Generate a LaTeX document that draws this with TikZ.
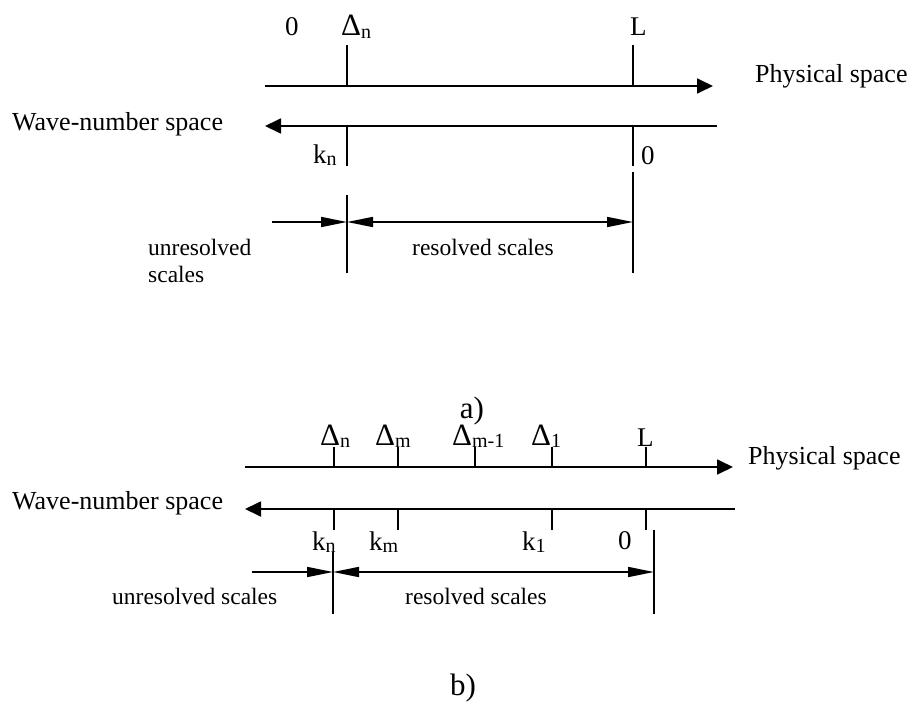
\documentclass[tikz,border=0pt]{standalone}
\usepackage{fontspec}
\setmainfont{Liberation Serif}
\usetikzlibrary{arrows.meta, positioning, calc}
\newcommand{\lowsub}[1]{\raisebox{-2.5pt}{\fontsize{20}{20}\selectfont #1}}
\newcommand{\bigdelta}{{\fontsize{31}{31}\selectfont Δ}}
\tikzset{
  ss@axis/.style={line width=1.8pt, -{Triangle[length=16pt,width=15pt]}},
  ss@tick/.style={line width=1.8pt},
  ss@bar/.style={line width=1.4pt},
  ss@dim/.style={line width=1.6pt, -{Triangle[length=26pt,width=10pt]}},
  ss@dimboth/.style={line width=1.6pt,
    {Triangle[length=26pt,width=10pt]}-{Triangle[length=26pt,width=10pt]}},
  ss@lbl/.style={font=\fontsize{27}{29}\selectfont, inner sep=0pt, anchor=base west},
  ss@space/.style={font=\fontsize{26}{28}\selectfont, inner sep=0pt, anchor=base west},
  ss@scale/.style={font=\fontsize{23.5}{27}\selectfont, inner sep=0pt, anchor=base west,
    align=left},
  ss@cap/.style={font=\fontsize{31}{33}\selectfont, inner sep=0pt, anchor=base},
}
\begin{document}
\begin{tikzpicture}[x=1pt, y=-1pt]
  \useasboundingbox (0,0) rectangle (912,701);

  % ---- a) one cut-off ----
  \coordinate (pa-w) at (265,86);
  \coordinate (pa-e) at (713,86);
  \coordinate (wa-e) at (717,126);
  \coordinate (wa-w) at (265,126);
  \draw[ss@axis] (pa-w) -- (pa-e);
  \draw[ss@axis] (wa-e) -- (wa-w);

  \draw[ss@tick] (347,45) -- (347,86);
  \draw[ss@tick] (633,45) -- (633,86);
  \draw[ss@tick] (347,126) -- (347,166);
  \draw[ss@tick] (633,126) -- (633,166);

  \node[ss@lbl] (za-top) at (285,36) {0};
  \node[ss@lbl] (dna)    at (341,36) {\bigdelta\lowsub{n}};
  \node[ss@lbl] (la)     at (630,36) {L};
  \node[ss@space] (phys-a) at (755,82) {Physical space};
  \node[ss@space] (wave-a) at (12,130) {Wave-number space};
  \node[ss@lbl] (kna)    at (313,163) {k\lowsub{n}};
  \node[ss@lbl] (za-bot) at (641,164) {0};

  \coordinate (ka-top) at (347,195);
  \coordinate (ka-bot) at (347,273);
  \coordinate (ra-top) at (633,172);
  \coordinate (ra-bot) at (633,273);
  \draw[ss@bar] (ka-top) -- (ka-bot);
  \draw[ss@bar] (ra-top) -- (ra-bot);

  \coordinate (ua-tail) at (272,222);
  \coordinate (ka-mid)  at (347,222);
  \coordinate (ra-mid)  at (633,222);
  \draw[ss@dim] (ua-tail) -- (ka-mid);
  \draw[ss@dimboth] (ka-mid) -- (ra-mid);

  \node[ss@scale] (unres-a) at (148,255) {unresolved};
  \node[ss@scale] (unres-a2) at (148,282) {scales};
  \node[ss@scale] (res-a)   at (412,255) {resolved scales};
  \node[ss@cap] (cap-a) at (472,418) {a)};

  % ---- b) several cut-offs ----
  \coordinate (pb-w) at (245,467);
  \coordinate (pb-e) at (733,467);
  \coordinate (wb-e) at (735,509);
  \coordinate (wb-w) at (245,509);
  \draw[ss@axis] (pb-w) -- (pb-e);
  \draw[ss@axis] (wb-e) -- (wb-w);

  \foreach \tx in {334,398,475,552,646}
    \draw[ss@tick] (\tx,447) -- (\tx,467);
  \foreach \tx in {334,398,552,646}
    \draw[ss@tick] (\tx,509) -- (\tx,530);

  \node[ss@lbl] (dnb)  at (320,445) {\bigdelta\lowsub{n}};
  \node[ss@lbl] (dmb)  at (375,445) {\bigdelta\lowsub{m}};
  \node[ss@lbl] (dm1b) at (452,445) {\bigdelta\lowsub{m-1}};
  \node[ss@lbl] (d1b)  at (531,445) {\bigdelta\lowsub{1}};
  \node[ss@lbl] (lb)   at (637,446) {L};
  \node[ss@space] (phys-b) at (748,464) {Physical space};
  \node[ss@space] (wave-b) at (12,509) {Wave-number space};
  \node[ss@lbl] (knb) at (312,550) {k\lowsub{n}};
  \node[ss@lbl] (kmb) at (369,550) {k\lowsub{m}};
  \node[ss@lbl] (k1b) at (522,550) {k\lowsub{1}};
  \node[ss@lbl] (zb)  at (618,549) {0};

  \coordinate (kb-top) at (333,552);
  \coordinate (kb-bot) at (333,614);
  \coordinate (rb-top) at (654,530);
  \coordinate (rb-bot) at (654,614);
  \draw[ss@bar] (kb-top) -- (kb-bot);
  \draw[ss@bar] (rb-top) -- (rb-bot);

  \coordinate (ub-tail) at (252,572);
  \coordinate (kb-mid)  at (333,572);
  \coordinate (rb-mid)  at (654,572);
  \draw[ss@dim] (ub-tail) -- (kb-mid);
  \draw[ss@dimboth] (kb-mid) -- (rb-mid);

  \node[ss@scale] (unres-b) at (112,604) {unresolved scales};
  \node[ss@scale] (res-b)   at (405,604) {resolved scales};
  \node[ss@cap] (cap-b) at (463,695) {b)};
\end{tikzpicture}
\end{document}
